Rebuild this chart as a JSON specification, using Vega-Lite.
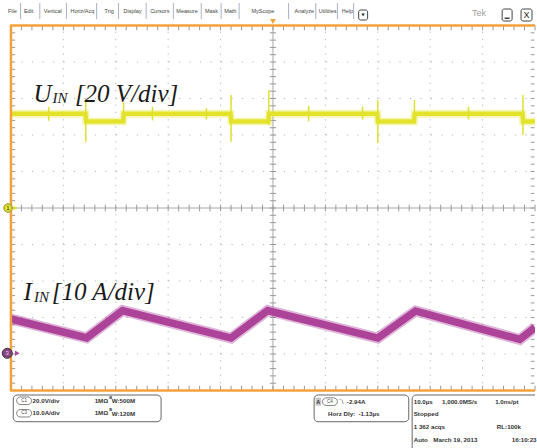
{
"$schema":"https://vega.github.io/schema/vega-lite/v6.json",
"width":537,"height":448,
"autosize":{"type":"fit","contains":"padding"},
"padding":0,
"background":"#ffffff",
"config":{"view":{"stroke":null},"axis":{"disable":true}},
"data":{"values":[{}]},
"datasets":{
"u":[{"t":0,"V":51.6},{"t":14.2,"V":51.6},{"t":14.35,"V":47.4},{"t":21.4,"V":47.4},{"t":21.55,"V":51.6},{"t":41.9,"V":51.6},{"t":42.05,"V":47.4},{"t":49.1,"V":47.4},{"t":49.25,"V":51.6},{"t":69.9,"V":51.6},{"t":70.05,"V":47.4},{"t":76.9,"V":47.4},{"t":77.05,"V":51.6},{"t":97.6,"V":51.6},{"t":97.75,"V":47.4},{"t":100,"V":47.4}],
"us":[{"t":7.2,"hi":55.5,"lo":47.8},{"t":14.27,"hi":58.3,"lo":36.3},{"t":21.48,"hi":58.3,"lo":47.0},{"t":27.0,"hi":55.5,"lo":48.0},{"t":37.3,"hi":54.8,"lo":48.5},{"t":42.0,"hi":61.9,"lo":36.3},{"t":49.2,"hi":64.7,"lo":45.5},{"t":56.8,"hi":56.0,"lo":47.5},{"t":67.1,"hi":55.5,"lo":48.5},{"t":70.0,"hi":59.2,"lo":35.6},{"t":77.0,"hi":59.2,"lo":47.0},{"t":87.3,"hi":55.5,"lo":48.5},{"t":97.7,"hi":61.9,"lo":40.0}],
"i":[{"t":0,"I":9.4},{"t":14.45,"I":4.25},{"t":21.3,"I":11.73},{"t":42.0,"I":4.19},{"t":49.0,"I":11.73},{"t":70.0,"I":4.19},{"t":77.2,"I":11.6},{"t":97.1,"I":3.8},{"t":100,"I":7.1}],
"menu":[{"m":"File","t":-0.57},{"m":"Edit","t":2.47},{"m":"Vertical","t":6.27},{"m":"Horiz/Acq","t":11.35},{"m":"Trig","t":17.87},{"m":"Display","t":21.48},{"m":"Cursors","t":26.56},{"m":"Measure","t":31.56},{"m":"Mask","t":37.02},{"m":"Math","t":40.68},{"m":"MyScope","t":45.9},{"m":"Analyze","t":54.1},{"m":"Utilities","t":58.75},{"m":"Help","t":63.12}],
"seps":[{"t":1.84},{"t":5.51},{"t":10.59},{"t":16.35},{"t":20.53},{"t":25.8},{"t":30.99},{"t":36.31},{"t":40.11},{"t":43.54},{"t":52.98},{"t":58.17},{"t":62.3},{"t":65.4}],
"pt":[{"s":"20.0V/div","t":4.13,"r":-5.279},{"s":"10.0A/div","t":4.13,"r":-5.625},{"s":"1MΩ","t":15.97,"r":-5.279},{"s":"1MΩ","t":15.97,"r":-5.625},{"s":"W:500M","t":19.25,"r":-5.3},{"s":"W:120M","t":19.25,"r":-5.646},{"s":"-2.94A","t":64.1,"r":-5.31},{"s":"Horz Dly:","t":60.5,"r":-5.644},{"s":"-1.13µs","t":66.3,"r":-5.644},{"s":"10.0µs","t":76.86,"r":-5.31},{"s":"1,000.0MS/s","t":82.26,"r":-5.31},{"s":"1.0ns/pt","t":92.4,"r":-5.31},{"s":"Stopped","t":76.86,"r":-5.644},{"s":"1 362 acqs","t":76.86,"r":-6.008},{"s":"RL:100k","t":92.72,"r":-6.008},{"s":"Auto","t":76.86,"r":-6.356},{"s":"March 19, 2013","t":80.6,"r":-6.356},{"s":"16:10:23","t":95.57,"r":-6.356}]
},
"resolve":{"scale":{"y":"independent"}},
"layer":[
{"layer":[
 {"data":{"values":[{"g":10},{"g":20},{"g":30},{"g":40},{"g":60},{"g":70},{"g":80},{"g":90}]},
  "mark":{"type":"rule","color":"#b4b4b4","strokeWidth":1,"strokeDash":[1.2,6.1]},
  "encoding":{"x":{"field":"g","type":"quantitative","scale":{"domain":[-2.09,100],"nice":false,"zero":false}},"y":{"datum":-5,"scale":{"domain":[-6.575,5.699],"nice":false,"zero":false}},"y2":{"datum":5}}},
 {"data":{"values":[{"h":-4},{"h":-3},{"h":-2},{"h":-1},{"h":1},{"h":2},{"h":3},{"h":4}]},
  "mark":{"type":"rule","color":"#b4b4b4","strokeWidth":1,"strokeDash":[1.2,9.3]},
  "encoding":{"y":{"field":"h","type":"quantitative","scale":{"domain":[-6.575,5.699],"nice":false,"zero":false}},"x":{"datum":0,"scale":{"domain":[-2.09,100],"nice":false,"zero":false}},"x2":{"datum":100}}},
 {"mark":{"type":"rule","color":"#a8a8a8","strokeWidth":1},
  "encoding":{"x":{"datum":50,"scale":{"domain":[-2.09,100],"nice":false,"zero":false}},"y":{"datum":-5,"scale":{"domain":[-6.575,5.699],"nice":false,"zero":false}},"y2":{"datum":5}}},
 {"mark":{"type":"rule","color":"#a8a8a8","strokeWidth":1},
  "encoding":{"y":{"datum":0,"scale":{"domain":[-6.575,5.699],"nice":false,"zero":false}},"x":{"datum":0,"scale":{"domain":[-2.09,100],"nice":false,"zero":false}},"x2":{"datum":100}}},
 {"data":{"values":[{"k":[0,2,4,6,8,10,12,14,16,18,20,22,24,26,28,30,32,34,36,38,40,42,44,46,48,50,52,54,56,58,60,62,64,66,68,70,72,74,76,78,80,82,84,86,88,90,92,94,96,98,100]}]},
  "transform":[{"flatten":["k"]}],
  "layer":[
   {"mark":{"type":"rule","color":"#9a9a9a","strokeWidth":1},"encoding":{"x":{"field":"k","type":"quantitative","scale":{"domain":[-2.09,100],"nice":false,"zero":false}},"y":{"datum":5,"scale":{"domain":[-6.575,5.699],"nice":false,"zero":false}},"y2":{"datum":4.87}}},
   {"mark":{"type":"rule","color":"#9a9a9a","strokeWidth":1},"encoding":{"x":{"field":"k","type":"quantitative","scale":{"domain":[-2.09,100],"nice":false,"zero":false}},"y":{"datum":-5,"scale":{"domain":[-6.575,5.699],"nice":false,"zero":false}},"y2":{"datum":-4.87}}},
   {"mark":{"type":"rule","color":"#9a9a9a","strokeWidth":1},"encoding":{"x":{"field":"k","type":"quantitative","scale":{"domain":[-2.09,100],"nice":false,"zero":false}},"y":{"datum":0.09,"scale":{"domain":[-6.575,5.699],"nice":false,"zero":false}},"y2":{"datum":-0.09}}}
  ]},
 {"data":{"values":[{"d":[-5,-4.8,-4.6,-4.4,-4.2,-4,-3.8,-3.6,-3.4,-3.2,-3,-2.8,-2.6,-2.4,-2.2,-2,-1.8,-1.6,-1.4,-1.2,-1,-0.8,-0.6,-0.4,-0.2,0,0.2,0.4,0.6,0.8,1,1.2,1.4,1.6,1.8,2,2.2,2.4,2.6,2.8,3,3.2,3.4,3.6,3.8,4,4.2,4.4,4.6,4.8,5]}]},
  "transform":[{"flatten":["d"]}],
  "layer":[
   {"mark":{"type":"rule","color":"#9a9a9a","strokeWidth":1},"encoding":{"y":{"field":"d","type":"quantitative","scale":{"domain":[-6.575,5.699],"nice":false,"zero":false}},"x":{"datum":0,"scale":{"domain":[-2.09,100],"nice":false,"zero":false}},"x2":{"datum":0.8}}},
   {"mark":{"type":"rule","color":"#9a9a9a","strokeWidth":1},"encoding":{"y":{"field":"d","type":"quantitative","scale":{"domain":[-6.575,5.699],"nice":false,"zero":false}},"x":{"datum":99.9,"scale":{"domain":[-2.09,100],"nice":false,"zero":false}},"x2":{"datum":99.2}}},
   {"mark":{"type":"rule","color":"#9a9a9a","strokeWidth":1},"encoding":{"y":{"field":"d","type":"quantitative","scale":{"domain":[-6.575,5.699],"nice":false,"zero":false}},"x":{"datum":49.4,"scale":{"domain":[-2.09,100],"nice":false,"zero":false}},"x2":{"datum":50.6}}}
  ]}
]},
{"layer":[
 {"data":{"name":"u"},"mark":{"type":"line","color":"#e6e633","strokeWidth":8,"opacity":0.35,"clip":true},
  "encoding":{"x":{"field":"t","type":"quantitative","scale":{"domain":[-2.09,100],"nice":false,"zero":false}},"y":{"field":"V","type":"quantitative","scale":{"domain":[-131.5,113.98],"nice":false,"zero":false}}}},
 {"data":{"name":"u"},"mark":{"type":"line","color":"#e3e32c","strokeWidth":4.5,"clip":true},
  "encoding":{"x":{"field":"t","type":"quantitative","scale":{"domain":[-2.09,100],"nice":false,"zero":false}},"y":{"field":"V","type":"quantitative","scale":{"domain":[-131.5,113.98],"nice":false,"zero":false}}}},
 {"data":{"name":"us"},"mark":{"type":"rule","color":"#e0e030","strokeWidth":1.5},
  "encoding":{"x":{"field":"t","type":"quantitative","scale":{"domain":[-2.09,100],"nice":false,"zero":false}},"y":{"field":"hi","type":"quantitative","scale":{"domain":[-131.5,113.98],"nice":false,"zero":false}},"y2":{"field":"lo"}}}
]},
{"layer":[
 {"data":{"name":"i"},"mark":{"type":"line","color":"#b0479f","strokeWidth":11,"opacity":0.4,"clip":true},
  "encoding":{"x":{"field":"t","type":"quantitative","scale":{"domain":[-2.09,100],"nice":false,"zero":false}},"y":{"field":"I","type":"quantitative","scale":{"domain":[-25.94,96.8],"nice":false,"zero":false}}}},
 {"data":{"name":"i"},"mark":{"type":"line","color":"#ad4399","strokeWidth":7.5,"clip":true},
  "encoding":{"x":{"field":"t","type":"quantitative","scale":{"domain":[-2.09,100],"nice":false,"zero":false}},"y":{"field":"I","type":"quantitative","scale":{"domain":[-25.94,96.8],"nice":false,"zero":false}}}}
]},
{"layer":[
 {"mark":{"type":"rule","color":"#f3a23a","strokeWidth":2.5},"encoding":{"x":{"datum":0,"scale":{"domain":[-2.09,100],"nice":false,"zero":false}},"y":{"datum":-5.02,"scale":{"domain":[-6.575,5.699],"nice":false,"zero":false}},"y2":{"datum":5.02}}},
 {"mark":{"type":"rule","color":"#f3a23a","strokeWidth":2.5},"encoding":{"x":{"datum":-0.1,"scale":{"domain":[-2.09,100],"nice":false,"zero":false}},"x2":{"datum":100},"y":{"datum":5,"scale":{"domain":[-6.575,5.699],"nice":false,"zero":false}}}},
 {"mark":{"type":"rule","color":"#f3a23a","strokeWidth":2.5},"encoding":{"x":{"datum":-0.1,"scale":{"domain":[-2.09,100],"nice":false,"zero":false}},"x2":{"datum":100},"y":{"datum":-5,"scale":{"domain":[-6.575,5.699],"nice":false,"zero":false}}}},
 {"mark":{"type":"point","shape":"triangle-down","filled":true,"color":"#f3a23a","size":35,"opacity":1},"encoding":{"x":{"datum":50,"scale":{"domain":[-2.09,100],"nice":false,"zero":false}},"y":{"datum":5.11,"scale":{"domain":[-6.575,5.699],"nice":false,"zero":false}}}},
 {"mark":{"type":"point","shape":"triangle-right","filled":true,"color":"#e3e32c","size":22,"opacity":1},"encoding":{"x":{"datum":0.9,"scale":{"domain":[-2.09,100],"nice":false,"zero":false}},"y":{"datum":0,"scale":{"domain":[-6.575,5.699],"nice":false,"zero":false}}}},
 {"mark":{"type":"point","shape":"circle","filled":true,"fill":"#e3e32c","stroke":"#8a8a30","strokeWidth":1,"size":70,"opacity":1},"encoding":{"x":{"datum":-0.57,"scale":{"domain":[-2.09,100],"nice":false,"zero":false}},"y":{"datum":0,"scale":{"domain":[-6.575,5.699],"nice":false,"zero":false}}}},
 {"mark":{"type":"text","text":"1","fontSize":6,"font":"Liberation Sans","color":"#333333","align":"center","baseline":"middle"},"encoding":{"x":{"datum":-0.57,"scale":{"domain":[-2.09,100],"nice":false,"zero":false}},"y":{"datum":0,"scale":{"domain":[-6.575,5.699],"nice":false,"zero":false}}}},
 {"mark":{"type":"point","shape":"triangle-right","filled":true,"color":"#b0479f","size":30,"opacity":1},"encoding":{"x":{"datum":1.2,"scale":{"domain":[-2.09,100],"nice":false,"zero":false}},"y":{"datum":-3.981,"scale":{"domain":[-6.575,5.699],"nice":false,"zero":false}}}},
 {"mark":{"type":"point","shape":"circle","filled":true,"fill":"#874482","stroke":"#333333","strokeWidth":1,"size":100,"opacity":1},"encoding":{"x":{"datum":-0.7,"scale":{"domain":[-2.09,100],"nice":false,"zero":false}},"y":{"datum":-3.981,"scale":{"domain":[-6.575,5.699],"nice":false,"zero":false}}}},
 {"mark":{"type":"text","text":"3","fontSize":6,"font":"Liberation Sans","color":"#e8d0e6","align":"center","baseline":"middle"},"encoding":{"x":{"datum":-0.7,"scale":{"domain":[-2.09,100],"nice":false,"zero":false}},"y":{"datum":-3.981,"scale":{"domain":[-6.575,5.699],"nice":false,"zero":false}}}},
 {"mark":{"type":"text","text":"U","fontSize":25,"font":"Liberation Serif","fontStyle":"italic","color":"#1a1a1a","align":"left","baseline":"alphabetic"},"encoding":{"x":{"datum":4.3,"scale":{"domain":[-2.09,100],"nice":false,"zero":false}},"y":{"datum":2.912,"scale":{"domain":[-6.575,5.699],"nice":false,"zero":false}}}},
 {"mark":{"type":"text","text":"IN","fontSize":15,"font":"Liberation Serif","fontStyle":"italic","color":"#1a1a1a","align":"left","baseline":"alphabetic"},"encoding":{"x":{"datum":7.95,"scale":{"domain":[-2.09,100],"nice":false,"zero":false}},"y":{"datum":2.868,"scale":{"domain":[-6.575,5.699],"nice":false,"zero":false}}}},
 {"mark":{"type":"text","text":"[20 V/div]","fontSize":25,"font":"Liberation Serif","fontStyle":"italic","color":"#1a1a1a","align":"left","baseline":"alphabetic"},"encoding":{"x":{"datum":12.2,"scale":{"domain":[-2.09,100],"nice":false,"zero":false}},"y":{"datum":2.912,"scale":{"domain":[-6.575,5.699],"nice":false,"zero":false}}}},
 {"mark":{"type":"text","text":"I","fontSize":25,"font":"Liberation Serif","fontStyle":"italic","color":"#1a1a1a","align":"left","baseline":"alphabetic"},"encoding":{"x":{"datum":2.4,"scale":{"domain":[-2.09,100],"nice":false,"zero":false}},"y":{"datum":-2.521,"scale":{"domain":[-6.575,5.699],"nice":false,"zero":false}}}},
 {"mark":{"type":"text","text":"IN","fontSize":15,"font":"Liberation Serif","fontStyle":"italic","color":"#1a1a1a","align":"left","baseline":"alphabetic"},"encoding":{"x":{"datum":4.4,"scale":{"domain":[-2.09,100],"nice":false,"zero":false}},"y":{"datum":-2.567,"scale":{"domain":[-6.575,5.699],"nice":false,"zero":false}}}},
 {"mark":{"type":"text","text":"[10 A/div]","fontSize":25,"font":"Liberation Serif","fontStyle":"italic","color":"#1a1a1a","align":"left","baseline":"alphabetic"},"encoding":{"x":{"datum":7.8,"scale":{"domain":[-2.09,100],"nice":false,"zero":false}},"y":{"datum":-2.521,"scale":{"domain":[-6.575,5.699],"nice":false,"zero":false}}}},
 {"data":{"name":"menu"},"mark":{"type":"text","fontSize":5.5,"font":"Liberation Sans","color":"#444444","align":"left","baseline":"middle"},"encoding":{"x":{"field":"t","type":"quantitative","scale":{"domain":[-2.09,100],"nice":false,"zero":false}},"y":{"datum":5.397,"scale":{"domain":[-6.575,5.699],"nice":false,"zero":false}},"text":{"field":"m"}}},
 {"data":{"name":"seps"},"mark":{"type":"rule","color":"#a9b2c6","strokeWidth":1},"encoding":{"x":{"field":"t","type":"quantitative","scale":{"domain":[-2.09,100],"nice":false,"zero":false}},"y":{"datum":5.616,"scale":{"domain":[-6.575,5.699],"nice":false,"zero":false}},"y2":{"datum":5.178}}},
 {"mark":{"type":"rect","fill":"#ffffff","stroke":"#444444","strokeWidth":1,"cornerRadius":2},"encoding":{"x":{"datum":66.35,"scale":{"domain":[-2.09,100],"nice":false,"zero":false}},"x2":{"datum":68.06},"y":{"datum":5.425,"scale":{"domain":[-6.575,5.699],"nice":false,"zero":false}},"y2":{"datum":5.151}}},
 {"mark":{"type":"text","text":"▼","fontSize":4,"font":"DejaVu Sans","color":"#222222","align":"center","baseline":"middle"},"encoding":{"x":{"datum":67.2,"scale":{"domain":[-2.09,100],"nice":false,"zero":false}},"y":{"datum":5.29,"scale":{"domain":[-6.575,5.699],"nice":false,"zero":false}}}},
 {"mark":{"type":"text","text":"Tek","fontSize":9,"font":"Liberation Sans","color":"#a0a0a0","align":"left","baseline":"middle"},"encoding":{"x":{"datum":88.0,"scale":{"domain":[-2.09,100],"nice":false,"zero":false}},"y":{"datum":5.33,"scale":{"domain":[-6.575,5.699],"nice":false,"zero":false}}}},
 {"mark":{"type":"rect","fill":"#ffffff","stroke":"#444444","strokeWidth":1,"cornerRadius":2},"encoding":{"x":{"datum":93.73,"scale":{"domain":[-2.09,100],"nice":false,"zero":false}},"x2":{"datum":95.63},"y":{"datum":5.452,"scale":{"domain":[-6.575,5.699],"nice":false,"zero":false}},"y2":{"datum":5.123}}},
 {"mark":{"type":"rule","color":"#222222","strokeWidth":1.3},"encoding":{"x":{"datum":94.2,"scale":{"domain":[-2.09,100],"nice":false,"zero":false}},"x2":{"datum":95.15},"y":{"datum":5.2,"scale":{"domain":[-6.575,5.699],"nice":false,"zero":false}}}},
 {"mark":{"type":"rect","fill":"#ffffff","stroke":"#444444","strokeWidth":1,"cornerRadius":2},"encoding":{"x":{"datum":97.34,"scale":{"domain":[-2.09,100],"nice":false,"zero":false}},"x2":{"datum":99.43},"y":{"datum":5.452,"scale":{"domain":[-6.575,5.699],"nice":false,"zero":false}},"y2":{"datum":5.123}}},
 {"mark":{"type":"text","text":"X","fontSize":9,"font":"Liberation Sans","color":"#222222","align":"center","baseline":"middle"},"encoding":{"x":{"datum":98.38,"scale":{"domain":[-2.09,100],"nice":false,"zero":false}},"y":{"datum":5.29,"scale":{"domain":[-6.575,5.699],"nice":false,"zero":false}}}},
 {"mark":{"type":"rect","fill":"#ffffff","stroke":"#666666","strokeWidth":1,"cornerRadius":4},"encoding":{"x":{"datum":0.44,"scale":{"domain":[-2.09,100],"nice":false,"zero":false}},"x2":{"datum":28.65},"y":{"datum":-5.123,"scale":{"domain":[-6.575,5.699],"nice":false,"zero":false}},"y2":{"datum":-5.855}}},
 {"mark":{"type":"rect","fill":"#ffffff","stroke":"#666666","strokeWidth":1,"cornerRadius":4},"encoding":{"x":{"datum":57.85,"scale":{"domain":[-2.09,100],"nice":false,"zero":false}},"x2":{"datum":75.91},"y":{"datum":-5.123,"scale":{"domain":[-6.575,5.699],"nice":false,"zero":false}},"y2":{"datum":-5.855}}},
 {"mark":{"type":"rect","fill":"#ffffff","stroke":"#666666","strokeWidth":1,"cornerRadius":4,"clip":true},"encoding":{"x":{"datum":76.56,"scale":{"domain":[-2.09,100],"nice":false,"zero":false}},"x2":{"datum":102},"y":{"datum":-5.123,"scale":{"domain":[-6.575,5.699],"nice":false,"zero":false}},"y2":{"datum":-6.8}}},
 {"mark":{"type":"rect","fill":"#ffffff","stroke":"#666666","strokeWidth":0.8,"cornerRadius":4},"encoding":{"x":{"datum":1.08,"scale":{"domain":[-2.09,100],"nice":false,"zero":false}},"x2":{"datum":3.94},"y":{"datum":-5.178,"scale":{"domain":[-6.575,5.699],"nice":false,"zero":false}},"y2":{"datum":-5.384}}},
 {"mark":{"type":"rect","fill":"#ffffff","stroke":"#666666","strokeWidth":0.8,"cornerRadius":4},"encoding":{"x":{"datum":1.08,"scale":{"domain":[-2.09,100],"nice":false,"zero":false}},"x2":{"datum":3.94},"y":{"datum":-5.521,"scale":{"domain":[-6.575,5.699],"nice":false,"zero":false}},"y2":{"datum":-5.726}}},
 {"mark":{"type":"rect","fill":"#ffffff","stroke":"#666666","strokeWidth":0.8,"cornerRadius":4},"encoding":{"x":{"datum":59.45,"scale":{"domain":[-2.09,100],"nice":false,"zero":false}},"x2":{"datum":62.3},"y":{"datum":-5.2,"scale":{"domain":[-6.575,5.699],"nice":false,"zero":false}},"y2":{"datum":-5.41}}},
 {"mark":{"type":"rect","fill":"#c8c8c8","stroke":"#c8c8c8","strokeWidth":0.5},"encoding":{"x":{"datum":58.17,"scale":{"domain":[-2.09,100],"nice":false,"zero":false}},"x2":{"datum":59.13},"y":{"datum":-5.2,"scale":{"domain":[-6.575,5.699],"nice":false,"zero":false}},"y2":{"datum":-5.41}}},
 {"mark":{"type":"text","text":"C1","fontSize":4.5,"font":"Liberation Sans","color":"#444444","align":"center","baseline":"middle"},"encoding":{"x":{"datum":2.51,"scale":{"domain":[-2.09,100],"nice":false,"zero":false}},"y":{"datum":-5.279,"scale":{"domain":[-6.575,5.699],"nice":false,"zero":false}}}},
 {"mark":{"type":"text","text":"C3","fontSize":4.5,"font":"Liberation Sans","color":"#444444","align":"center","baseline":"middle"},"encoding":{"x":{"datum":2.51,"scale":{"domain":[-2.09,100],"nice":false,"zero":false}},"y":{"datum":-5.625,"scale":{"domain":[-6.575,5.699],"nice":false,"zero":false}}}},
 {"mark":{"type":"text","text":"C4","fontSize":4.5,"font":"Liberation Sans","color":"#444444","align":"center","baseline":"middle"},"encoding":{"x":{"datum":60.87,"scale":{"domain":[-2.09,100],"nice":false,"zero":false}},"y":{"datum":-5.305,"scale":{"domain":[-6.575,5.699],"nice":false,"zero":false}}}},
 {"mark":{"type":"text","text":"A","fontSize":5.5,"fontWeight":"bold","font":"Liberation Sans","color":"#333333","align":"center","baseline":"middle"},"encoding":{"x":{"datum":58.65,"scale":{"domain":[-2.09,100],"nice":false,"zero":false}},"y":{"datum":-5.305,"scale":{"domain":[-6.575,5.699],"nice":false,"zero":false}}}},
 {"mark":{"type":"text","text":"¯\\","fontSize":6,"font":"Liberation Sans","color":"#333333","align":"left","baseline":"middle"},"encoding":{"x":{"datum":62.5,"scale":{"domain":[-2.09,100],"nice":false,"zero":false}},"y":{"datum":-5.31,"scale":{"domain":[-6.575,5.699],"nice":false,"zero":false}}}},
 {"mark":{"type":"text","text":"B","fontSize":4,"fontWeight":"bold","font":"Liberation Sans","color":"#333333","align":"left","baseline":"middle"},"encoding":{"x":{"datum":18.75,"scale":{"domain":[-2.09,100],"nice":false,"zero":false}},"y":{"datum":-5.2,"scale":{"domain":[-6.575,5.699],"nice":false,"zero":false}}}},
 {"mark":{"type":"text","text":"B","fontSize":4,"fontWeight":"bold","font":"Liberation Sans","color":"#333333","align":"left","baseline":"middle"},"encoding":{"x":{"datum":18.75,"scale":{"domain":[-2.09,100],"nice":false,"zero":false}},"y":{"datum":-5.546,"scale":{"domain":[-6.575,5.699],"nice":false,"zero":false}}}},
 {"data":{"name":"pt"},"mark":{"type":"text","fontSize":6.2,"fontWeight":"bold","font":"Liberation Sans","color":"#333333","align":"left","baseline":"middle"},"encoding":{"x":{"field":"t","type":"quantitative","scale":{"domain":[-2.09,100],"nice":false,"zero":false}},"y":{"field":"r","type":"quantitative","scale":{"domain":[-6.575,5.699],"nice":false,"zero":false}},"text":{"field":"s"}}}
]}
]
}
